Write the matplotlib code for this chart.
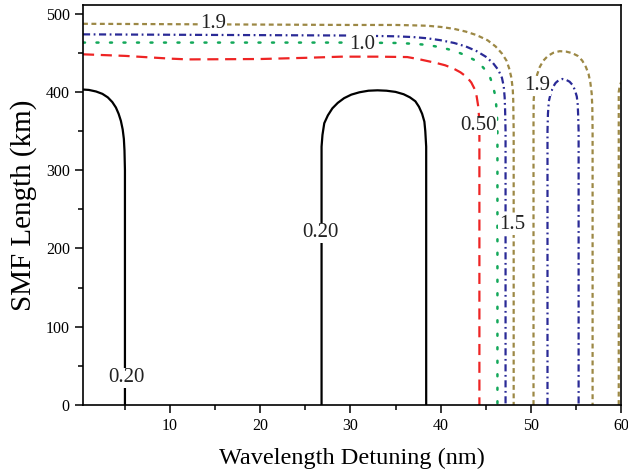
import matplotlib
matplotlib.use("Agg")
import matplotlib.pyplot as plt
from matplotlib.ticker import MultipleLocator

plt.rcParams['font.family'] = ['Liberation Serif', 'DejaVu Serif']

# ---- contour level 0.20 (black, solid) ----
c020a_x = [0.35, 1.0, 1.8, 2.5, 3.1, 3.6, 4.0, 4.3, 4.55, 4.75, 4.88, 4.95, 5.0, 5.0]
c020a_y = [403, 402.5, 400.5, 397.5, 393, 387, 380, 372, 363, 352, 340, 325, 300, 0]
c020b_x = [26.8, 26.8, 26.9, 27.1, 27.5, 28.0, 28.6, 29.3, 30.1, 31.0, 32.0, 33.0,
           34.0, 35.0, 35.9, 36.6, 37.2, 37.6, 37.95, 38.2, 38.3, 38.4, 38.4]
c020b_y = [0, 330, 345, 360, 370, 379, 386, 392, 396.5, 399.5, 401.5, 402,
           401.5, 400, 397, 393, 388, 381, 372, 362, 350, 330, 0]

# ---- contour level 0.50 (red, dashed) ----
c050_x = [0.35, 5, 10, 12, 20, 25, 29, 33, 36.3, 37.5, 38.5, 39.5, 40.5, 41.4, 42.2,
          42.9, 43.4, 43.8, 44.0, 44.15, 44.25, 44.3, 44.3]
c050_y = [448, 446, 442.5, 441.5, 442, 443.5, 445, 445, 444.5, 442, 439.5, 437, 434, 430, 425,
          419, 412, 403, 394, 383, 370, 350, 0]

# ---- contour level 1.0 (green, dotted) ----
c100_x = [0.35, 10, 20, 30, 35, 37, 38.5, 40, 41.5, 42.7, 43.7, 44.5, 45.1, 45.5,
          45.8, 46.0, 46.15, 46.25, 46.3, 46.3]
c100_y = [463, 463, 463, 463, 462.5, 461.5, 460, 457, 452.5, 447, 441, 434, 426, 418,
          408, 398, 385, 370, 350, 0]

# ---- contour level 1.5 (blue, dash-dot) ----
c150a_x = [0.35, 10, 20, 30, 35, 37, 38.5, 40, 41.5, 42.8, 44.0, 45.0, 45.8, 46.4,
           46.8, 47.0, 47.1, 47.15, 47.2, 47.2]
c150a_y = [473.5, 473, 472.5, 472, 471, 470, 468.5, 466, 462.5, 458, 452, 445, 437, 428,
           418, 407, 393, 377, 350, 0]
c150b_x = [51.85, 51.85, 51.9, 52.0, 52.2, 52.45, 52.75, 53.1, 53.5, 53.9, 54.3, 54.65,
           54.9, 55.1, 55.2, 55.25, 55.3, 55.3]
c150b_y = [0, 350, 372, 388, 398, 406, 411.5, 415, 416.5, 415.5, 413, 408.5,
           402, 394, 384, 370, 350, 0]

# ---- contour level 1.9 (olive, short dash) ----
c190a_x = [0.35, 10, 20, 30, 35, 37, 38.5, 40, 41.5, 42.8, 44.0, 45.2, 46.1, 46.8,
           47.3, 47.6, 47.85, 48.0, 48.05, 48.1, 48.1]
c190a_y = [487, 486.5, 486, 485.5, 485.5, 485, 484.5, 483, 480.5, 477, 472.5, 466, 458, 449,
           440, 430, 418, 403, 390, 350, 0]
c190b_x = [50.3, 50.3, 50.32, 50.45, 50.7, 51.0, 51.4, 51.9, 52.5, 53.2, 53.9, 54.6,
           55.2, 55.7, 56.1, 56.4, 56.6, 56.75, 56.82, 56.85, 56.85]
c190b_y = [0, 360, 390, 408, 422, 432, 440, 446, 450, 452, 451.5, 449.5,
           446, 440, 432, 423, 412, 398, 380, 350, 0]
c190c_x = [59.75, 59.75, 59.85, 60.0]
c190c_y = [0, 400, 407, 412]

# ---- inline labels ----
label_text = ["1.9", "1.0", "1.9", "0.50", "1.5", "0.20", "0.20"]
label_x = [14.8, 31.3, 50.7, 44.2, 47.9, 26.7, 5.2]
label_y = [488, 461, 408, 357, 230, 220, 35]

fig = plt.figure(figsize=(6.28, 4.73), dpi=100)
ax = fig.add_axes([83 / 628, 68 / 473, (621 - 83) / 628, 400 / 473])

black = 'black'
red = '#ee2424'
green = '#13a85a'
blue = '#2a2a96'
olive = '#9c8845'

ax.plot(c020a_x, c020a_y, color=black, lw=1.6, solid_capstyle='butt')
ax.plot(c020b_x, c020b_y, color=black, lw=1.6, solid_capstyle='butt')
ax.plot(c050_x, c050_y, color=red, lw=1.6, linestyle=(0, (5, 3)))
ax.plot(c100_x, c100_y, color=green, lw=1.8, linestyle=(0, (0.8, 4.6)),
        dash_capstyle='round')
ax.plot(c150a_x, c150a_y, color=blue, lw=1.6, linestyle=(0, (3.2, 1.6, 0.8, 1.6)))
ax.plot(c150b_x, c150b_y, color=blue, lw=1.6, linestyle=(0, (3.2, 1.6, 0.8, 1.6)))
for xs, ys in [(c190a_x, c190a_y), (c190b_x, c190b_y), (c190c_x, c190c_y)]:
    ax.plot(xs, ys, color=olive, lw=1.6, linestyle=(0, (2.2, 1.6)))

for t, x, y in zip(label_text, label_x, label_y):
    ax.text(x, y, t, fontsize=15, ha='center', va='center', color='#222222',
            bbox=dict(facecolor='white', edgecolor='none', pad=0.3), zorder=5)

ax.set_xlim(0.35, 60)
ax.set_ylim(0, 511)
ax.xaxis.set_major_locator(MultipleLocator(10))
ax.xaxis.set_minor_locator(MultipleLocator(5))
ax.yaxis.set_major_locator(MultipleLocator(100))
ax.yaxis.set_minor_locator(MultipleLocator(50))
ax.tick_params(which='both', direction='out', top=False, right=False,
               width=1.1, labelsize=11.5)
ax.tick_params(which='major', length=6)
ax.tick_params(which='minor', length=3.5)
for s in ax.spines.values():
    s.set_linewidth(1.2)

ax.set_xlabel("Wavelength Detuning (nm)", fontsize=17.5, labelpad=10)
ax.set_ylabel("SMF Length (km)", fontsize=21, labelpad=6)

fig.savefig("out.png", dpi=100)
